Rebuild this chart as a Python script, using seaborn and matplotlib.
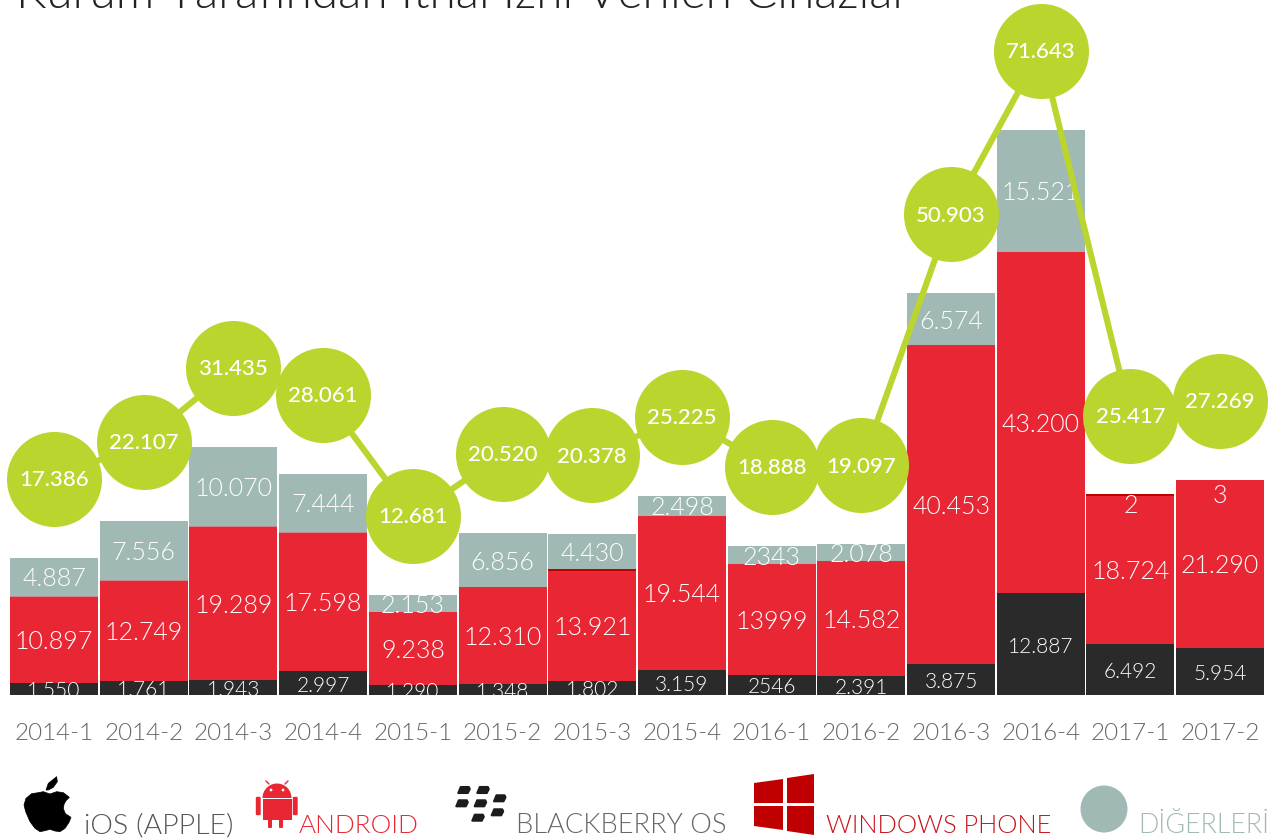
import matplotlib
matplotlib.use("Agg")
import matplotlib.pyplot as plt
from matplotlib.patches import Ellipse, Polygon, Rectangle, FancyBboxPatch, Wedge
import numpy as np
import pandas as pd
import seaborn as sns

periods = ["2014-1", "2014-2", "2014-3", "2014-4", "2015-1", "2015-2", "2015-3",
           "2015-4", "2016-1", "2016-2", "2016-3", "2016-4", "2017-1", "2017-2"]
ios = [1550, 1761, 1943, 2997, 1290, 1348, 1802, 3159, 2546, 2391, 3875, 12887, 6492, 5954]
android = [10897, 12749, 19289, 17598, 9238, 12310, 13921, 19544, 13999, 14582, 40453, 43200, 18724, 21290]
blackberry = [52, 41, 133, 22, 0, 6, 0, 24, 0, 46, 1, 35, 0, 22]
windows = [0, 0, 0, 0, 0, 0, 225, 0, 0, 0, 0, 0, 199, 0]
others = [4887, 7556, 10070, 7444, 2153, 6856, 4430, 2498, 2343, 2078, 6574, 15521, 2, 3]
totals = [17386, 22107, 31435, 28061, 12681, 20520, 20378, 25225, 18888, 19097, 50903, 71643, 25417, 27269]

ios_labels = ["1.550", "1.761", "1.943", "2.997", "1.290", "1.348", "1.802", "3.159", "2546", "2.391", "3.875", "12.887", "6.492", "5.954"]
android_labels = ["10.897", "12.749", "19.289", "17.598", "9.238", "12.310", "13.921", "19.544", "13999", "14.582", "40.453", "43.200", "18.724", "21.290"]
others_labels = ["4.887", "7.556", "10.070", "7.444", "2.153", "6.856", "4.430", "2.498", "2343", "2.078", "6.574", "15.521", "2", "3"]
total_labels = ["17.386", "22.107", "31.435", "28.061", "12.681", "20.520", "20.378", "25.225", "18.888", "19.097", "50.903", "71.643", "25.417", "27.269"]

title = "Kurum Tarafından İthal İzni Verilen Cihazlar"
legend_names = ["iOS (APPLE)", "ANDROID", "BLACKBERRY OS", "WINDOWS PHONE", "DİĞERLERİ"]

C_IOS, C_AND, C_BB, C_WIN, C_OTH, C_LINE = "#2a2a2a", "#e82634", "#c98a8e", "#c00000", "#a0b9b4", "#bad52e"

W, H = 1271, 838
sns.set_theme(style="white")
plt.rcParams["font.family"] = ["Lato", "DejaVu Sans"]

fig = plt.figure(figsize=(W / 100, H / 100), dpi=100)
ax = fig.add_axes([9.2 / W, (H - 695) / H, (1265 - 9.2) / W, 695 / H])
df = pd.DataFrame({"p": periods, "ios": ios, "android": android, "blackberry": blackberry,
                   "windows": windows, "others": others})

bottom = np.zeros(len(periods))
for col, c in [("ios", C_IOS), ("android", C_AND), ("blackberry", C_BB), ("windows", C_WIN), ("others", C_OTH)]:
    sns.barplot(data=df, x="p", y=col, color=c, bottom=bottom, ax=ax, width=0.98,
                saturation=1, edgecolor="none", linewidth=0, order=periods)
    bottom = bottom + df[col].to_numpy()

ymax = 695 / 0.00789
ax.set_ylim(0, ymax)
ax.set_xlim(-0.5, 13.5)
sns.despine(ax=ax, left=True, bottom=True)
ax.set_ylabel("")
ax.set_xlabel("")
ax.set_yticks([])
ax.tick_params(axis="x", length=0, pad=20, labelsize=17.5, labelcolor="#666666")
for t in ax.get_xticklabels():
    t.set_fontweight(300)

b1 = np.array(ios)
b2 = b1 + np.array(android)
b3 = b2 + np.array(blackberry) + np.array(windows)
dy = 300  # optical centring of the digits
for i in range(len(periods)):
    ax.text(i, b1[i] / 2 - dy, ios_labels[i], color="white", fontsize=15, fontweight=300,
            ha="center", va="center", clip_on=True, zorder=4)
    ax.text(i, b1[i] + android[i] / 2 - dy, android_labels[i], color="white", fontsize=18, fontweight=300,
            ha="center", va="center", zorder=4)
    if others[i] > 100:
        ax.text(i, b3[i] + others[i] / 2 - dy, others_labels[i], color="white", fontsize=18, fontweight=300,
                ha="center", va="center", zorder=4)
    else:
        drop = 2000 if others_labels[i] == "3" else 1250
        ax.text(i, b2[i] - drop, others_labels[i], color="white", fontsize=18, fontweight=300,
                ha="center", va="center", zorder=4)

# line on the same scale, shifted upward by 10 000 units
ax2 = ax.twinx()
ax2.set_ylim(-10000, ymax - 10000)
sns.despine(ax=ax2, left=True, bottom=True)
line_df = pd.DataFrame({"x": np.arange(len(periods)), "y": totals})
sns.lineplot(data=line_df, x="x", y="y", color=C_LINE, lw=4.4, ax=ax2, zorder=5, legend=False)
sns.scatterplot(data=line_df, x="x", y="y", color=C_LINE, s=4680, linewidth=0, ax=ax2, zorder=6,
                clip_on=False, legend=False)
ax2.set_xlabel("")
ax2.set_ylabel("")
ax2.set_yticks([])
for i, t in enumerate(totals):
    ax2.text(i, t - 150, total_labels[i], color="white", fontsize=16, fontweight=500,
             ha="center", va="center", zorder=7)

# overlay in pixel coordinates for title and legend
ov = fig.add_axes([0, 0, 1, 1], zorder=10)
ov.set_xlim(0, W)
ov.set_ylim(H, 0)
ov.axis("off")
ov.patch.set_alpha(0)
ov.text(16, 8, title, fontsize=34.5, fontweight=300, color="#222222", ha="left", va="baseline")


def zoomed(pts, x0, y0):
    return [[x0 + px / 3, y0 + py / 3] for px, py in pts]


# apple
apple_body = [(85, 68), (100, 65), (120, 72), (140, 65), (160, 68), (178, 82), (168, 92), (162, 103),
              (160, 116), (166, 131), (183, 142), (177, 157), (165, 175), (150, 185), (135, 183),
              (120, 178), (105, 182), (90, 185), (75, 175), (60, 155), (47, 125), (42, 105), (48, 85), (65, 71)]
apple_leaf = [(108, 60), (115, 40), (140, 20), (142, 35), (130, 52), (115, 60)]
ov.add_patch(Polygon(zoomed(apple_body, 10, 770), color="black", lw=0.5, joinstyle="round"))
ov.add_patch(Polygon(zoomed(apple_leaf, 10, 770), color="black", lw=0.5, joinstyle="round"))
# android
ov.add_patch(Wedge((277, 798), 14.5, 180, 360, color=C_AND, lw=0))
ov.add_patch(Rectangle((262.5, 799), 29, 21, color=C_AND, lw=0))
ov.add_patch(FancyBboxPatch((257, 798), 2.5, 16, boxstyle="round,pad=1.2", color=C_AND, lw=0))
ov.add_patch(FancyBboxPatch((294, 798), 2.5, 16, boxstyle="round,pad=1.2", color=C_AND, lw=0))
ov.add_patch(FancyBboxPatch((269, 818), 2, 9, boxstyle="round,pad=1", color=C_AND, lw=0))
ov.add_patch(FancyBboxPatch((280, 818), 2, 9, boxstyle="round,pad=1", color=C_AND, lw=0))
ov.plot([269, 266], [784, 781], color=C_AND, lw=1)
ov.plot([285, 288], [784, 781], color=C_AND, lw=1)
ov.add_patch(Ellipse((271, 790), 2.8, 2.8, color="white", lw=0))
ov.add_patch(Ellipse((283, 790), 2.8, 2.8, color="white", lw=0))
# blackberry
for cx, cy in [(464.3, 790), (483.3, 790), (462.3, 803.3), (480.7, 803.3), (500, 798.3), (478.3, 817.7), (497.7, 812.3)]:
    ov.add_patch(Polygon([[cx - 6, cy + 3], [cx - 3.5, cy - 3], [cx + 4.5, cy - 3], [cx + 5.5, cy - 1], [cx + 3.5, cy + 3]],
                         color="#1c1c1c", lw=1.5, joinstyle="round"))
# windows
ov.add_patch(Polygon([[754, 783], [783, 779], [783, 803], [754, 803]], color=C_WIN, lw=0))
ov.add_patch(Polygon([[787, 778], [814, 774], [814, 803], [787, 803]], color=C_WIN, lw=0))
ov.add_patch(Polygon([[754, 806], [783, 806], [783, 830], [754, 826]], color=C_WIN, lw=0))
ov.add_patch(Polygon([[787, 806], [814, 806], [814, 835], [787, 831]], color=C_WIN, lw=0))
# others
ov.add_patch(Ellipse((1104, 809), 47, 47, color=C_OTH, lw=0))

for x, name, c, fs in zip([84, 299, 516, 826, 1138], legend_names,
                          ["#555555", C_AND, "#666666", "#c8141c", C_OTH],
                          [20.5, 18.8, 19.6, 18.4, 19.4]):
    ov.text(x, 833, name, fontsize=fs, fontweight=300, color=c, ha="left", va="baseline")

fig.savefig("out.png", dpi=100)
